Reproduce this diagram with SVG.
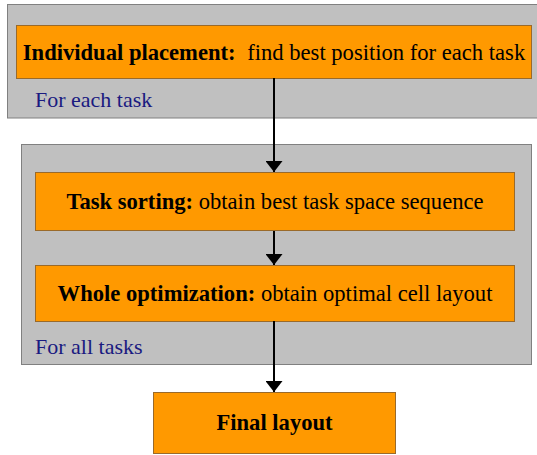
<svg xmlns="http://www.w3.org/2000/svg" width="537" height="455" viewBox="0 0 537 455">
<style>
.grp{fill:#c0c0c0;stroke:#808080;stroke-width:1}
.box{fill:#ff9900;stroke:#9a6a2a;stroke-width:1}
.t{font-family:"Liberation Serif","Times New Roman",serif;font-size:22.6px;fill:#000}
.b{font-weight:bold}
.lbl{font-family:"Liberation Serif","Times New Roman",serif;font-size:22px;fill:#1a1a80}
.c{stroke:#000;stroke-width:2;fill:none}
</style>
<defs>
<marker id="ah" markerWidth="12" markerHeight="17" refX="11" refY="8.5" orient="auto" markerUnits="userSpaceOnUse">
<path d="M0,0 L11,8.5 L0,17 Z" fill="#000"/>
</marker>
</defs>
<g id="group-each">
<rect class="grp" x="7.5" y="4.5" width="540" height="113.5"/>
<text class="lbl" x="35" y="107">For each task</text>
</g>
<g id="group-all">
<rect class="grp" x="21.5" y="144.5" width="510" height="220"/>
<text class="lbl" x="35" y="354">For all tasks</text>
</g>
<g id="individual">
<rect class="box" x="16.5" y="25.5" width="515" height="53"/>
<text class="t" x="274" y="60" text-anchor="middle"><tspan class="b">Individual placement:</tspan><tspan dx="6"> find best position for each task</tspan></text>
</g>
<g id="sorting">
<rect class="box" x="35.5" y="172.5" width="479" height="58"/>
<text class="t" x="275" y="209" text-anchor="middle"><tspan class="b">Task sorting:</tspan> obtain best task space sequence</text>
</g>
<g id="whole">
<rect class="box" x="35.5" y="265.5" width="479" height="56"/>
<text class="t" x="275" y="301" text-anchor="middle"><tspan class="b">Whole optimization:</tspan> obtain optimal cell layout</text>
</g>
<g id="final">
<rect class="box" x="153.5" y="392.5" width="242" height="61"/>
<text class="t b" x="274.5" y="430" text-anchor="middle">Final layout</text>
</g>
<g id="connectors">
<line class="c" x1="274" y1="78" x2="274" y2="172" marker-end="url(#ah)"/>
<line class="c" x1="274" y1="231" x2="274" y2="265" marker-end="url(#ah)"/>
<line class="c" x1="274" y1="321" x2="274" y2="392" marker-end="url(#ah)"/>
</g>
</svg>
